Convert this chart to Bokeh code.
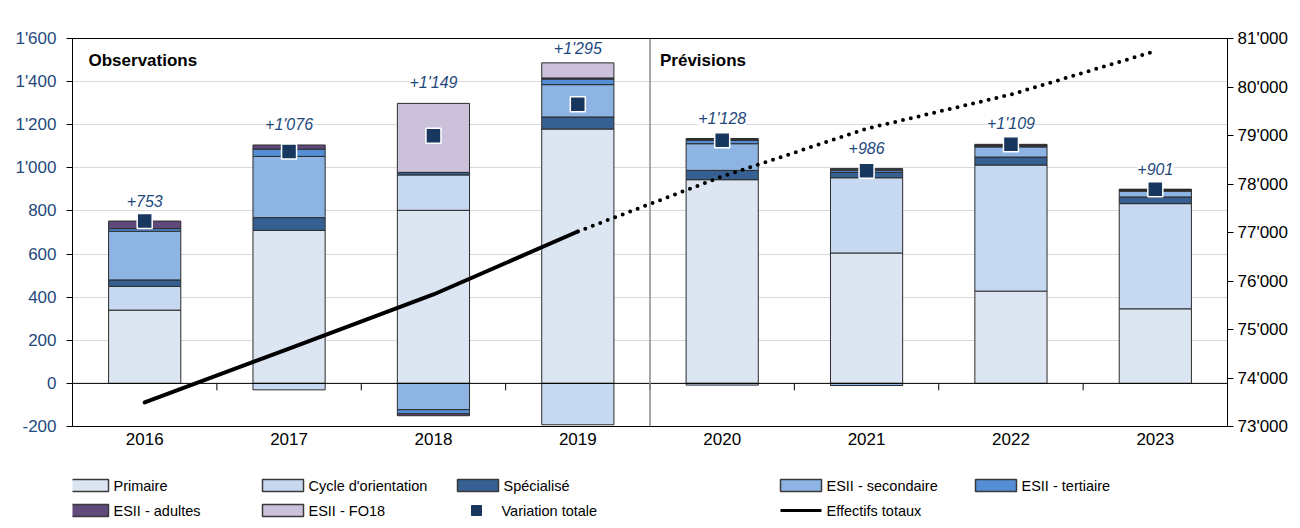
from bokeh.plotting import figure
from bokeh.models import (ColumnDataSource, Range1d, LinearAxis, FixedTicker, Span,
                          Label, LabelSet, FactorRange)
from bokeh.layouts import column
from bokeh.embed import file_html
from bokeh.resources import INLINE
from bokeh.core.properties import value
import numpy as np

# ---------------- data ----------------
years = ["2016", "2017", "2018", "2019", "2020", "2021", "2022", "2023"]
primaire = [340, 710, 803, 1180, 945, 605, 428, 346]
cycle = [110, -30, 164, -192, -8, 349, 585, 488]
specialise = [30, 59, 12, 56, 43, 25, 37, 31]
esii_secondaire = [226, 284, -122, 150, 124, -10, 47, 27]
esii_tertiaire = [12, 34, -19, 26, 16, 10, 4, 3]
esii_adultes = [35, 19, -9, 5, 3, 5, 5, 4]
esii_fo18 = [0, 0, 320, 70, 5, 2, 3, 2]
variation_totale = [753, 1076, 1149, 1295, 1128, 986, 1109, 901]
effectifs_totaux = [73495, 74608, 75722, 77021, 78155, 79140, 79845, 80740]

series_names = ["Primaire", "Cycle d'orientation", "Spécialisé", "ESII - secondaire",
                "ESII - tertiaire", "ESII - adultes", "ESII - FO18"]
series_values = [primaire, cycle, specialise, esii_secondaire, esii_tertiaire,
                 esii_adultes, esii_fo18]
series_colors = ["#DCE6F2", "#C6D9F0", "#366092", "#8DB4E2", "#558ED5", "#604A7B", "#CCC1DA"]

left_ticks = list(range(-200, 1601, 200))
right_ticks = list(range(73000, 81001, 1000))

def fmt(v):
    return f"{v:,}".replace(",", "'")

FONT = "Liberation Sans"
BLUE_TXT = "#1F497D"

W = 1292
MAIN_H = 460
LEG_H = 60
BORDER_L, BORDER_R = 72, 65

# ---------------- main figure ----------------
p = figure(x_range=FactorRange(*years), y_range=Range1d(-200, 1600),
           width=W, height=MAIN_H, output_backend="svg", toolbar_location=None,
           min_border_left=BORDER_L, min_border_right=BORDER_R, min_border_top=38,
           min_border_bottom=34)
p.extra_y_ranges = {"eff": Range1d(73000, 81000)}
p.outline_line_color = "black"
p.outline_line_width = 1
p.background_fill_color = "white"
p.border_fill_color = "white"
p.xgrid.grid_line_color = None
p.ygrid.grid_line_color = "#D9D9D9"
p.ygrid.grid_line_width = 1
p.ygrid.ticker = FixedTicker(ticks=left_ticks)

# left axis
ya = p.yaxis[0]
ya.ticker = FixedTicker(ticks=left_ticks)
ya.major_label_overrides = {t: fmt(t) for t in left_ticks}
ya.axis_line_color = "black"
ya.major_tick_line_color = "black"
ya.major_tick_out = 6
ya.major_tick_in = 0
ya.minor_tick_line_color = None
ya.major_label_standoff = 10
ya.major_label_text_font = FONT
ya.major_label_text_font_size = "17px"
ya.major_label_text_color = BLUE_TXT

# right axis
ra = LinearAxis(y_range_name="eff", ticker=FixedTicker(ticks=right_ticks))
ra.major_label_overrides = {t: fmt(t) for t in right_ticks}
ra.axis_line_color = "black"
ra.major_tick_line_color = "black"
ra.major_tick_out = 6
ra.major_tick_in = 0
ra.minor_tick_line_color = None
ra.major_label_standoff = 4
ra.major_label_text_font = FONT
ra.major_label_text_font_size = "17px"
ra.major_label_text_color = "black"
p.add_layout(ra, "right")

# bottom axis
xa = p.xaxis[0]
xa.axis_line_color = None
xa.major_tick_line_color = None
xa.major_tick_out = 0
xa.major_tick_in = 0
xa.major_label_standoff = 6
xa.major_label_text_font = FONT
xa.major_label_text_font_size = "17px"
xa.major_label_text_color = "black"

# stacked bars (positive and negative stacks handled separately)
pos_base = np.zeros(len(years))
neg_base = np.zeros(len(years))
for name, vals, col in zip(series_names, series_values, series_colors):
    v = np.array(vals, dtype=float)
    bottom = np.where(v >= 0, pos_base, neg_base + v)
    top = np.where(v >= 0, pos_base + v, neg_base)
    keep = v != 0
    src = ColumnDataSource(dict(x=[y for y, k in zip(years, keep) if k],
                                bottom=bottom[keep], top=top[keep]))
    p.vbar(x="x", bottom="bottom", top="top", width=0.5, source=src,
           fill_color=col, line_color="#2B2B2B", line_width=1)
    pos_base = np.where(v >= 0, pos_base + v, pos_base)
    neg_base = np.where(v < 0, neg_base + v, neg_base)

# zero line and category boundary ticks
p.add_layout(Span(location=0, dimension="width", line_color="black", line_width=1))
bounds = list(range(1, len(years)))
p.segment(x0=bounds, y0=[0] * len(bounds), x1=bounds, y1=[-32] * len(bounds),
          line_color="black", line_width=1)

# separator between observations and forecasts
p.add_layout(Span(location=4, dimension="height", line_color="#8C8C8C", line_width=1.5))

# total line
eff_src_obs = ColumnDataSource(dict(x=years[:4], y=effectifs_totaux[:4]))
eff_src_prev = ColumnDataSource(dict(x=years[3:], y=effectifs_totaux[3:]))
p.line(x="x", y="y", source=eff_src_obs, y_range_name="eff", line_color="black",
       line_width=4, line_cap="round")
p.line(x="x", y="y", source=eff_src_prev, y_range_name="eff", line_color="black",
       line_width=4, line_cap="round", line_dash="0 8")

# total markers
label_y = np.minimum(pos_base + 95, 1552)
tot_src = ColumnDataSource(dict(x=years, y=variation_totale,
                                ylab=label_y.tolist(),
                                t=["+" + fmt(v) for v in variation_totale]))
p.scatter(x="x", y="y", source=tot_src, marker="square", size=15,
          fill_color="#17375E", line_color="white", line_width=1.5)

p.add_layout(LabelSet(x="x", y="ylab", text="t", source=tot_src, text_align="center",
                      text_baseline="middle", text_font=value(FONT),
                      text_font_size="16px", text_font_style="italic",
                      text_color=BLUE_TXT, background_fill_color="white"))

# section titles and axis titles
p.add_layout(Label(x=0, y=1600, x_offset=16, y_offset=-22, text="Observations",
                   text_font=FONT, text_font_size="17px", text_font_style="bold",
                   text_baseline="middle", text_color="black"))
p.add_layout(Label(x=4, y=1600, x_offset=10, y_offset=-22, text="Prévisions",
                   text_font=FONT, text_font_size="17px", text_font_style="bold",
                   text_baseline="middle", text_color="black"))
p.add_layout(Label(x=0, y=1600, x_offset=1, y_offset=20, text="Variation annuelle",
                   text_font=FONT, text_font_size="15px",
                   text_baseline="middle", text_color=BLUE_TXT))
p.add_layout(Label(x=8, y=1600, x_offset=0, y_offset=18, text="Effectifs",
                   text_font=FONT, text_font_size="15px", text_align="right",
                   text_baseline="middle", text_color="black"))

# ---------------- legend figure ----------------
# frame spans the same horizontal pixels as the main frame, so x data == page pixels
lg = figure(width=W, height=LEG_H, x_range=Range1d(BORDER_L, W - BORDER_R),
            y_range=Range1d(0, LEG_H), output_backend="svg", toolbar_location=None,
            min_border_left=BORDER_L, min_border_right=BORDER_R,
            min_border_top=0, min_border_bottom=0)
lg.axis.visible = False
lg.grid.grid_line_color = None
lg.outline_line_color = None

col_x = [67, 262, 457, 780, 975]
row_y = [35, 10]
LEG_FONT_SIZE = "14.5px"
patch_items = [(0, 0), (0, 1), (0, 2), (0, 3), (0, 4), (1, 0), (1, 1)]
for (r, c), name, colr in zip(patch_items, series_names, series_colors):
    lg.rect(x=[col_x[c] + 20.5], y=[row_y[r]], width=41, height=12,
            fill_color=colr, line_color="#3A3A3A", line_width=1.5)
    lg.text(x=[col_x[c] + 46], y=[row_y[r]], text=[name], text_font=value(FONT),
            text_font_size=LEG_FONT_SIZE, text_baseline="middle", text_color="black")
# Variation totale
lg.scatter(x=[col_x[2] + 19], y=[row_y[1]], marker="square", size=10,
           fill_color="#17375E", line_color="#17375E")
lg.text(x=[col_x[2] + 44], y=[row_y[1]], text=["Variation totale"], text_font=value(FONT),
        text_font_size=LEG_FONT_SIZE, text_baseline="middle", text_color="black")
# Effectifs totaux
lg.line(x=[col_x[3], col_x[3] + 41], y=[row_y[1], row_y[1]], line_color="black", line_width=3)
lg.text(x=[col_x[3] + 46], y=[row_y[1]], text=["Effectifs totaux"], text_font=value(FONT),
        text_font_size=LEG_FONT_SIZE, text_baseline="middle", text_color="black")

layout = column(p, lg, spacing=0)
open("out.html", "w").write(file_html(layout, INLINE))
